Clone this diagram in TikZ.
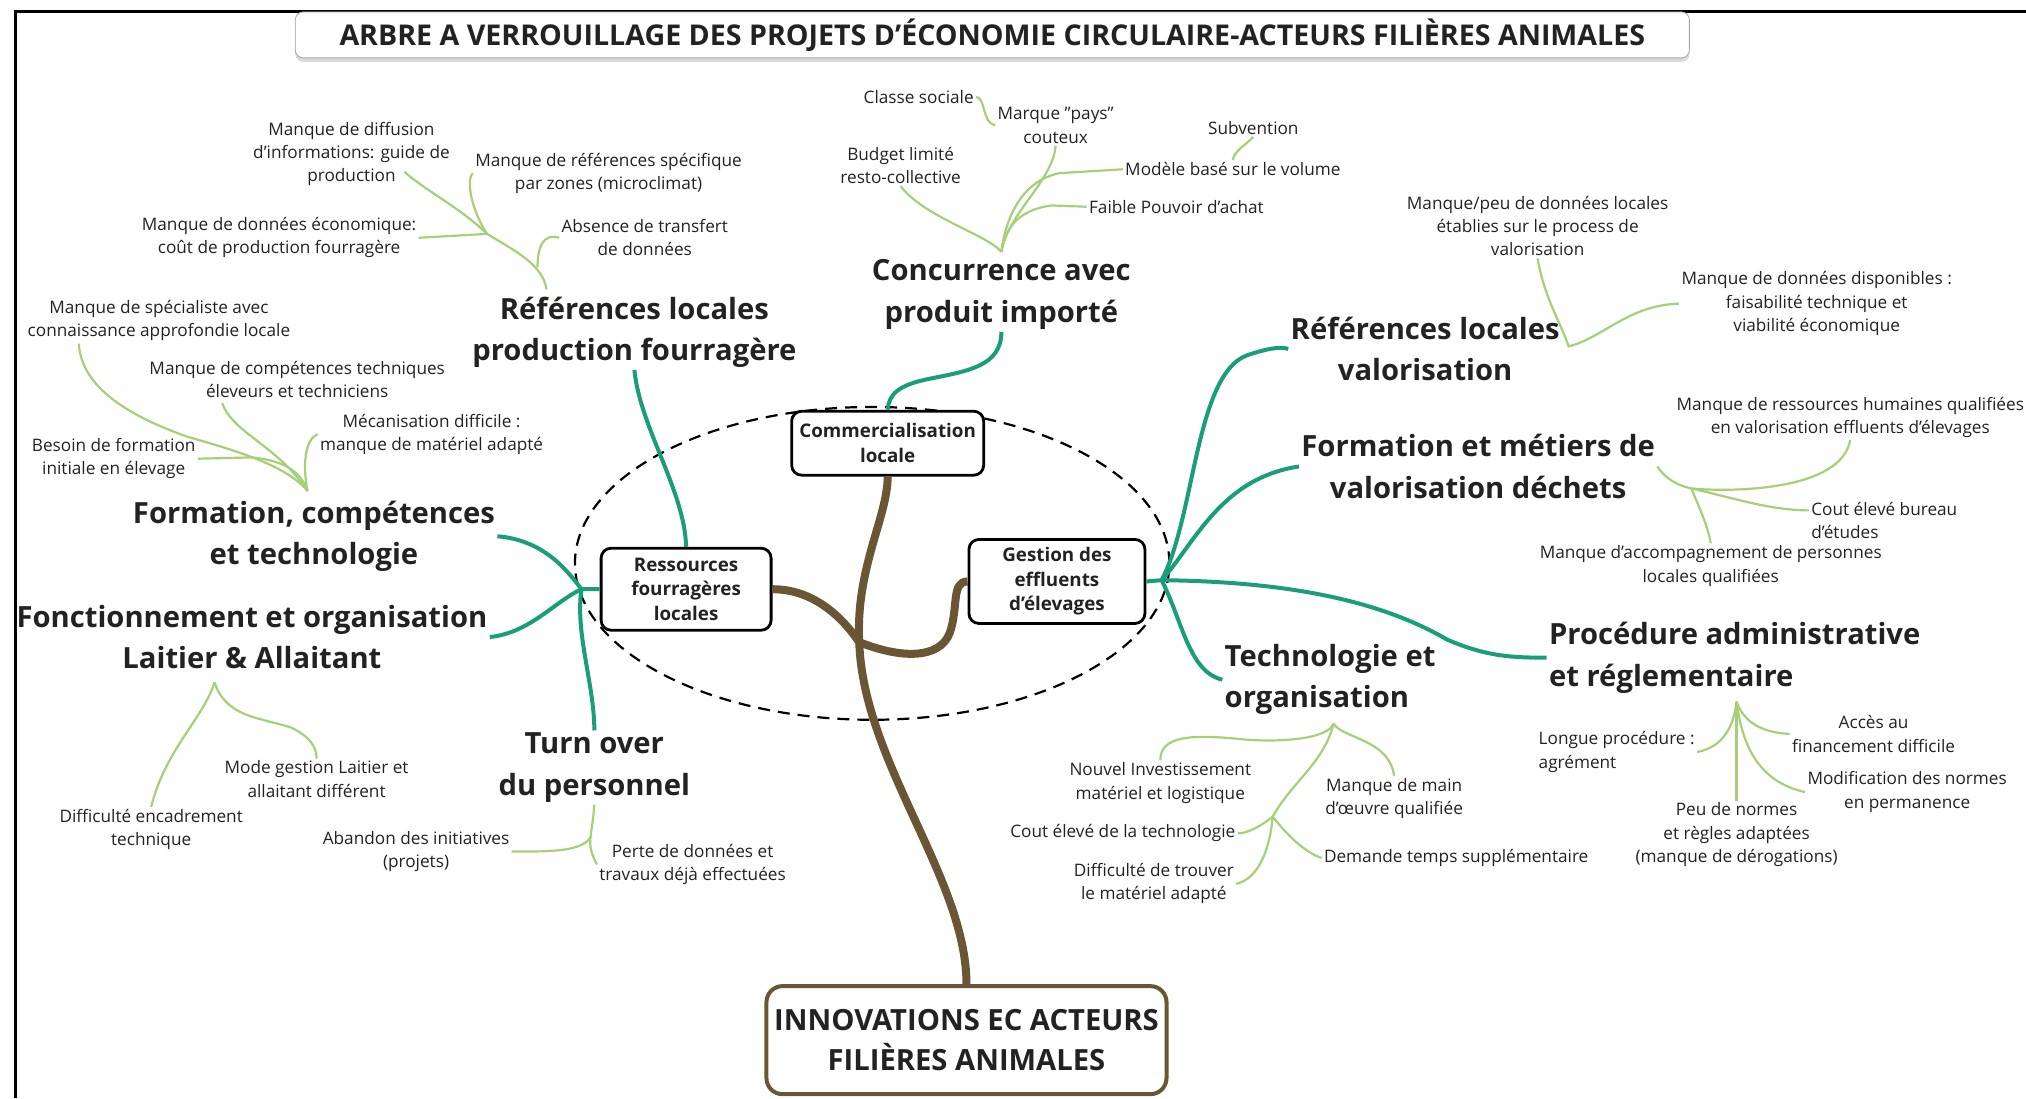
\documentclass[tikz,border=0pt]{standalone}
\usepackage{fontspec}
\setmainfont{Open Sans}
\usetikzlibrary{shadows}
\definecolor{treeteal}{HTML}{1A9E7A}
\definecolor{twiggreen}{HTML}{A6CF78}
\definecolor{trunkbrown}{HTML}{6A5634}
\definecolor{inkgray}{HTML}{222222}

\begin{document}
\begin{tikzpicture}[x=0.646pt, y=-0.646pt,
  topic/.style={font=\fontsize{14.6}{20.7}\selectfont\bfseries, align=center, text=inkgray, inner sep=1pt},
  leaf/.style={font=\fontsize{8.6}{11.6}\selectfont, align=center, text=inkgray, inner sep=1pt},
  hubbox/.style={draw, line width=1.4pt, rounded corners=5pt, fill=white, align=center,
    font=\fontsize{9.4}{12.3}\selectfont\bfseries, text=inkgray},
  limb/.style={treeteal, line width=2pt},
  twig/.style={twiggreen, line width=1.1pt},
  trunk/.style={trunkbrown, line width=4pt}]
  \useasboundingbox (0,0) rectangle (1568,850);
  \draw[line width=1.5pt] (12,850) -- (12,9) -- (1568,9);

  % title
  \node[draw=gray!70, rounded corners=4pt, fill=white,
    drop shadow={shadow xshift=0pt, shadow yshift=-2pt, opacity=0.3},
    minimum width=697pt, minimum height=21pt,
    font=\bfseries\fontsize{14.3}{16}\selectfont, text=inkgray] (title) at (768,27)
    {ARBRE A VERROUILLAGE DES PROJETS D'ÉCONOMIE CIRCULAIRE-ACTEURS FILIÈRES ANIMALES};

  % dashed core
  \draw[line width=1.1pt, dash pattern=on 6pt off 4pt] (675,436) ellipse [x radius=148.6pt, y radius=78.2pt];

  % hub boxes
  \node[hubbox, minimum width=96pt, minimum height=32pt] (com) at (687,343) {Commercialisation\\locale};
  \node[hubbox, minimum width=85pt, minimum height=41pt] (rfl) at (531,456) {Ressources\\fourragères\\locales};
  \node[hubbox, minimum width=88pt, minimum height=42pt] (gde) at (818,450) {Gestion des\\effluents\\d'élevages};
  \node[hubbox, draw=trunkbrown, line width=2pt, rounded corners=8pt, minimum width=200pt, minimum height=54pt,
    font=\fontsize{14.6}{20}\selectfont\bfseries] (root) at (748,805) {INNOVATIONS EC ACTEURS\\FILIÈRES ANIMALES};

  % topics
  \node[topic] (cpi) at (775,228) {Concurrence avec\\produit importé};
  \node[topic] (rpf) at (491,257) {Références locales\\production fourragère};
  \node[topic] (fct) at (243,415) {Formation, compétences\\et technologie};
  \node[topic] (foa) at (195,493) {Fonctionnement et organisation\\Laitier \& Allaitant};
  \node[topic] (tov) at (460,594) {Turn over\\du personnel};
  \node[topic] (rlv) at (1103,270) {Références locales\\valorisation};
  \node[topic] (fmv) at (1144,361) {Formation et métiers de\\valorisation déchets};
  \node[topic, align=left, anchor=west] (pad) at (1197,509) {Procédure administrative\\et réglementaire};
  \node[topic, align=left, anchor=west] (tor) at (946,526) {Technologie et\\organisation};

  % trunk
  \coordinate (fork) at (665,497);
  \draw[trunk] (root.north) .. controls (748,680) and (668,590) .. (fork)
    .. controls (662,440) and (687,400) .. (com.south);
  \draw[trunk] (rfl.east) .. controls (630,456) and (652,478) .. (fork);
  \draw[trunk] (gde.west) .. controls (736,450) and (742,470) .. (735,490)
    .. controls (727,510) and (698,510) .. (fork);

  % limbs
  \coordinate (lhub) at (450,456);
  \coordinate (rhub) at (899,449);
  \draw[limb] (rfl.west) -- (lhub) .. controls (438,440) and (420,418) .. (fct.east);
  \draw[limb] (lhub) .. controls (430,465) and (410,490) .. (foa.east);
  \draw[limb] (lhub) .. controls (445,490) and (460,530) .. (tov.north);
  \draw[limb] (rfl.north) .. controls (530,380) and (495,330) .. (rpf.south);
  \draw[limb] (com.north) .. controls (688,305) and (695,298) .. (720,293)
    .. controls (750,287) and (775,283) .. (cpi.south);
  \draw[limb] (gde.east) -- (rhub) .. controls (925,400) and (925,290) .. (965,275)
    .. controls (980,270) and (990,268) .. (rlv.west);
  \draw[limb] (rhub) .. controls (925,420) and (945,370) .. (fmv.west);
  \draw[limb] (rhub) .. controls (980,450) and (1060,460) .. (1120,495)
    .. controls (1150,508) and (1170,509) .. (pad.west);
  \draw[limb] (rhub) .. controls (915,480) and (920,520) .. (tor.west);

  % concurrence
  \node[leaf] (cs) at (711,75) {Classe sociale};
  \node[leaf] (mpc) at (817,97) {Marque "pays"\\couteux};
  \node[leaf] (sub) at (970,99) {Subvention};
  \node[leaf] (blr) at (697,128) {Budget limité\\resto-collective};
  \node[leaf, anchor=west] (mbv) at (869,131) {Modèle basé sur le volume};
  \node[leaf, anchor=west] (fpa) at (841,160) {Faible Pouvoir d'achat};
  \coordinate (cpiJ) at (775,195);
  \draw[twig] (cpiJ) .. controls (765,182) and (715,168) .. (blr.south);
  \draw[twig] (cpiJ) .. controls (780,165) and (815,140) .. (mpc.south);
  \draw[twig] (cpiJ) .. controls (778,170) and (790,140) .. (820,134) -- (mbv.west);
  \draw[twig] (cpiJ) .. controls (778,175) and (790,162) .. (814,159) -- (fpa.west);
  \draw[twig] (cs.east) .. controls (763,76) and (760,95) .. (mpc.west);
  \draw[twig] (sub.south) .. controls (962,114) and (955,117) .. (mbv.north);

  % references fourrageres
  \node[leaf] (rpf1) at (272,119) {Manque de diffusion\\d'informations: guide de\\production};
  \node[leaf] (rpf2) at (471,134) {Manque de références spécifique\\par zones (microclimat)};
  \node[leaf] (rpf3) at (216,184) {Manque de données économique:\\coût de production fourragère};
  \node[leaf] (rpf4) at (499,184) {Absence de transfert\\de données};
  \coordinate (rpfJ) at (423,224);
  \coordinate (rpfK) at (377,181);
  \coordinate (rpfL) at (416,207);
  \coordinate (rpf1e) at (313,133);
  \draw[twig] (rpfJ) .. controls (420,205) and (400,195) .. (rpfK) .. controls (355,160) and (330,148) .. (rpf1e);
  \draw[twig] (rpfK) -- (rpf3.east);
  \draw[twig] (rpfK) .. controls (366,165) and (360,140) .. (rpf2.west);
  \draw[twig] (rpfL) .. controls (416,192) and (420,180) .. (rpf4.west);

  % formation competences
  \node[leaf] (fct1) at (123,248) {Manque de spécialiste avec\\connaissance approfondie locale};
  \node[leaf] (fct2) at (230,294) {Manque de compétences techniques\\éleveurs et techniciens};
  \node[leaf] (fct3) at (334,336) {Mécanisation difficile :\\manque de matériel adapté};
  \node[leaf] (fct4) at (88,355) {Besoin de formation\\initiale en élevage};
  \coordinate (fctJ) at (238,380);
  \coordinate (fct1e) at (61,266);
  \coordinate (fct2e) at (172,312);
  \draw[twig] (fctJ) .. controls (222,360) and (180,348) .. (145,338) .. controls (100,322) and (63,300) .. (fct1e);
  \draw[twig] (fct2e) .. controls (180,335) and (215,345) .. (fctJ);
  \draw[twig] (fct3.west) .. controls (236,340) and (234,360) .. (fctJ);
  \draw[twig] (fct4.east) -- (195,354) .. controls (215,356) and (232,362) .. (fctJ);

  % fonctionnement
  \node[leaf] (foa1) at (245,603) {Mode gestion Laitier et\\allaitant différent};
  \node[leaf] (foa2) at (117,642) {Difficulté encadrement\\technique};
  \coordinate (foaJ) at (166,528);
  \draw[twig] (foaJ) .. controls (158,555) and (128,580) .. (foa2.north);
  \draw[twig] (foaJ) .. controls (175,555) and (200,555) .. (225,563) .. controls (240,570) and (245,578) .. (foa1.north);

  % turn over
  \node[leaf] (tov1) at (322,659) {Abandon des initiatives\\(projets)};
  \node[leaf] (tov2) at (536,669) {Perte de données et\\travaux déjà effectuées};
  \coordinate (tovJ) at (457,648);
  \draw[twig] (tov.south) .. controls (459,635) and (458,640) .. (tovJ) .. controls (450,660) and (420,659) .. (tov1.east);
  \draw[twig] (tovJ) .. controls (456,655) and (458,662) .. (tov2.west);

  % references valorisation
  \node[leaf] (rlv1) at (1190,175) {Manque/peu de données locales\\établies sur le process de\\valorisation};
  \node[leaf] (rlv2) at (1406,235) {Manque de données disponibles :\\faisabilité technique et\\viabilité économique};
  \coordinate (rlvJ) at (1214,268);
  \draw[twig] (rlv1.south) .. controls (1195,230) and (1208,250) .. (rlvJ) .. controls (1240,262) and (1260,236) .. (rlv2.west);

  % formation dechets
  \node[leaf] (fmv1) at (1432,323) {Manque de ressources humaines qualifiées\\en valorisation effluents d'élevages};
  \node[leaf, align=left, anchor=north west] (fmv2) at (1400,387) {Cout élevé bureau\\d'études};
  \node[leaf] (fmv3) at (1324,438) {Manque d'accompagnement de personnes\\locales qualifiées};
  \coordinate (fmvJ) at (1309,378);
  \coordinate (fmv2e) at (1400,395);
  \draw[twig] (fmv.east) .. controls (1290,372) and (1300,376) .. (fmvJ) .. controls (1340,381) and (1425,380) .. (fmv1.south);
  \draw[twig] (fmvJ) .. controls (1340,385) and (1370,395) .. (fmv2e);
  \draw[twig] (fmvJ) .. controls (1316,395) and (1322,408) .. (fmv3.north);

  % technologie
  \node[leaf] (tor1) at (898,606) {Nouvel Investissement\\matériel et logistique};
  \node[leaf] (tor2) at (1079,618) {Manque de main\\d'œuvre qualifiée};
  \node[leaf] (tor3) at (869,645) {Cout élevé de la technologie};
  \node[leaf] (tor4) at (1127,664) {Demande temps supplémentaire};
  \node[leaf] (tor5) at (893,684) {Difficulté de trouver\\le matériel adapté};
  \coordinate (torJ) at (1032,560);
  \coordinate (torK) at (985,632);
  \draw[twig] (torJ) .. controls (1028,572) and (990,575) .. (960,572) .. controls (920,568) and (898,570) .. (tor1.north);
  \draw[twig] (torJ) .. controls (1040,572) and (1075,572) .. (tor2.north);
  \draw[twig] (torJ) .. controls (1025,590) and (1000,605) .. (torK);
  \draw[twig] (torK) .. controls (975,640) and (965,645) .. (tor3.east);
  \draw[twig] (torK) .. controls (983,655) and (975,680) .. (tor5.east);
  \draw[twig] (torK) .. controls (995,645) and (1010,660) .. (tor4.west);

  % procedure
  \node[leaf] (pad1) at (1450,568) {Accès au\\financement difficile};
  \node[leaf, align=left, anchor=west] (pad2) at (1189,582) {Longue procédure :\\agrément};
  \node[leaf] (pad3) at (1476,613) {Modification des normes\\en permanence};
  \node[leaf] (pad4) at (1344,646) {Peu de normes\\et règles adaptées\\(manque de dérogations)};
  \coordinate (padJ) at (1344,543);
  \draw[twig] (padJ) -- (pad4.north);
  \draw[twig] (padJ) .. controls (1350,560) and (1365,567) .. (pad1.west);
  \draw[twig] (padJ) .. controls (1342,560) and (1335,578) .. (pad2.east);
  \draw[twig] (padJ) .. controls (1348,575) and (1360,605) .. (pad3.west);
\end{tikzpicture}
\end{document}
